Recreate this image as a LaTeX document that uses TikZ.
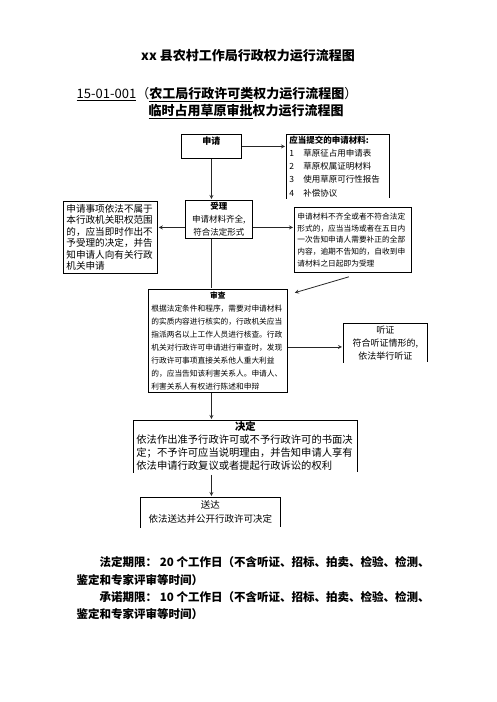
\documentclass[tikz,border=0pt]{standalone}
\usepackage{fontspec}
\setmainfont{Noto Sans CJK SC}
\usetikzlibrary{positioning}

\begin{document}
\begin{tikzpicture}[
     x = 1pt, y = -1pt, % pixel coordinates, y downwards
     > = stealth, % arrow head style
     shorten > = 1pt, % don't touch arrow head to node
     line width = 0.8pt
 ]

 \tikzstyle{stepbox}=[
     draw = black,
     anchor = north west,
     inner xsep = 3pt,
     inner ysep = 0pt
 ]
 \tikzstyle{openbox}=[
     stepbox,
     draw = none
 ]
 \tikzstyle{flow}=[
     ->,
     draw = black!85
 ]

 \useasboundingbox (0,0) rectangle (496,702);

 % headings
 \node (title) at (248,56) {\fontsize{13}{15}\selectfont\bfseries xx 县农村工作局行政权力运行流程图};
 \node[anchor=west] (code) at (73,95) {\fontsize{13}{15}\selectfont
   \underline{15-01-001}（\underline{\textbf{农工局行政许可类}}\textbf{权力运行流程图}）};
 \node[anchor=west] (name) at (145,111) {\fontsize{13}{15}\selectfont\bfseries
   \underline{临时占用草原审批}权力运行流程图};

 % steps
 \node[stepbox, text width=54pt, minimum height=24pt, align=center,
       text depth=12pt, inner ysep=2pt,
       font=\fontsize{9}{11}\selectfont] (apply) at (181,134) {\textbf{申请}};
 \node[openbox, text width=97pt, minimum height=64pt, align=left,
       font=\fontsize{8.5}{13.2}\selectfont] (mat) at (286,134) {%
   \textbf{应当提交的申请材料:}\\
   \makebox[14pt][l]{1}草原征占用申请表\\
   \makebox[14pt][l]{2}草原权属证明材料\\
   \makebox[14pt][l]{3}使用草原可行性报告\\
   \makebox[14pt][l]{4}补偿协议};
 \node[stepbox, text width=61pt, minimum height=38pt, align=center,
       font=\fontsize{8.5}{13}\selectfont] (accept) at (185,200) {%
   \textbf{受理}\\申请材料齐全,\\符合法定形式};
 \node[stepbox, text width=88pt, minimum height=72pt, align=left,
       font=\fontsize{9.6}{11.4}\selectfont] (reject) at (63,201) {%
   申请事项依法不属于\\本行政机关职权范围\\的，应当即时作出不\\予受理的决定，并告\\知申请人向有关行政\\机关申请};
 \node[stepbox, text width=111pt, minimum height=65pt, align=left,
       font=\fontsize{7.7}{11.8}\selectfont] (incomplete) at (294,207) {%
   申请材料不齐全或者不符合法定\\形式的，应当当场或者在五日内\\一次告知申请人需要补正的全部\\内容，逾期不告知的，自收到申\\请材料之日起即为受理};
 \node[stepbox, text width=133pt, minimum height=103pt, align=left,
       font=\fontsize{7.7}{13}\selectfont] (review) at (148,289) {%
   \makebox[133pt]{\textbf{审查}}\\
   根据法定条件和程序，需要对申请材料\\的实质内容进行核实的，行政机关应当\\指派两名以上工作人员进行核查。行政\\机关对行政许可申请进行审查时，发现\\行政许可事项直接关系他人重大利益\\的，应当告知该利害关系人。申请人、\\利害关系人有权进行陈述和申辩};
 \node[openbox, text width=78pt, minimum height=39pt, align=center,
       font=\fontsize{9}{13}\selectfont] (hearing) at (343,323) {%
   听证\\符合听证情形的,\\依法举行听证};
 \node[openbox, text width=218pt, minimum height=52pt, align=left,
       font=\fontsize{10.3}{13}\selectfont] (decide) at (133,420) {%
   \makebox[218pt]{\textbf{决定}}\\
   依法作出准予行政许可或不予行政许可的书面决\\定；不予许可应当说明理由，并告知申请人享有\\依法申请行政复议或者提起行政诉讼的权利};
 \node[openbox, text width=134pt, minimum height=30pt, align=center,
       font=\fontsize{9.5}{14}\selectfont] (deliver) at (140,497) {%
   送达\\依法送达并公开行政许可决定};

 % open sides
 \draw (mat.south west) -- (mat.north west) -- (mat.north east) -- (mat.south east);
 \draw (hearing.south west) -- (hearing.north west) -- (hearing.north east) -- (hearing.south east);
 \draw (decide.south west) -- (decide.north west) -- (decide.north east) -- (decide.south east);
 \draw (deliver.south west) -- (deliver.north west) -- (deliver.north east) -- (deliver.south east);

 % connectors
 \draw[flow] (apply.east) -- (apply.east -| mat.west);
 \draw[flow] (apply.south) -- (apply.south |- accept.north);
 \draw[flow] ([yshift=-8pt]accept.east) -- ([yshift=-8pt]accept.east -| incomplete.west);
 \draw[flow] ([yshift=-8pt]accept.west) -- ([yshift=-8pt]accept.west -| reject.east);
 \draw[draw=black!85] (apply.south |- accept.south) -- (apply.south |- review.north);
 \draw[flow] ([xshift=-4pt,yshift=-4pt]incomplete.south) -- ([xshift=6pt,yshift=-4pt]review.north east);
 \draw[flow] ([yshift=-6pt]review.east) -- ([yshift=-6pt]review.east -| hearing.west);
 \draw[flow] (apply.south |- review.south) -- (apply.south |- decide.north);
 \draw[flow] ([yshift=-2pt]apply.south |- decide.south) -- (apply.south |- deliver.north);

 % time limits
 \node[anchor=west, font=\fontsize{11.5}{14}\selectfont\bfseries] (legal) at (96,562)
   {法定期限： 20 个工作日（不含听证、招标、拍卖、检验、检测、};
 \node[anchor=west, font=\fontsize{11.5}{14}\selectfont\bfseries] (legalb) at (73,580)
   {鉴定和专家评审等时间）};
 \node[anchor=west, font=\fontsize{11.5}{14}\selectfont\bfseries] (promise) at (96,597)
   {承诺期限： 10 个工作日（不含听证、招标、拍卖、检验、检测、};
 \node[anchor=west, font=\fontsize{11.5}{14}\selectfont\bfseries] (promiseb) at (73,614)
   {鉴定和专家评审等时间）};
\end{tikzpicture}
\end{document}
